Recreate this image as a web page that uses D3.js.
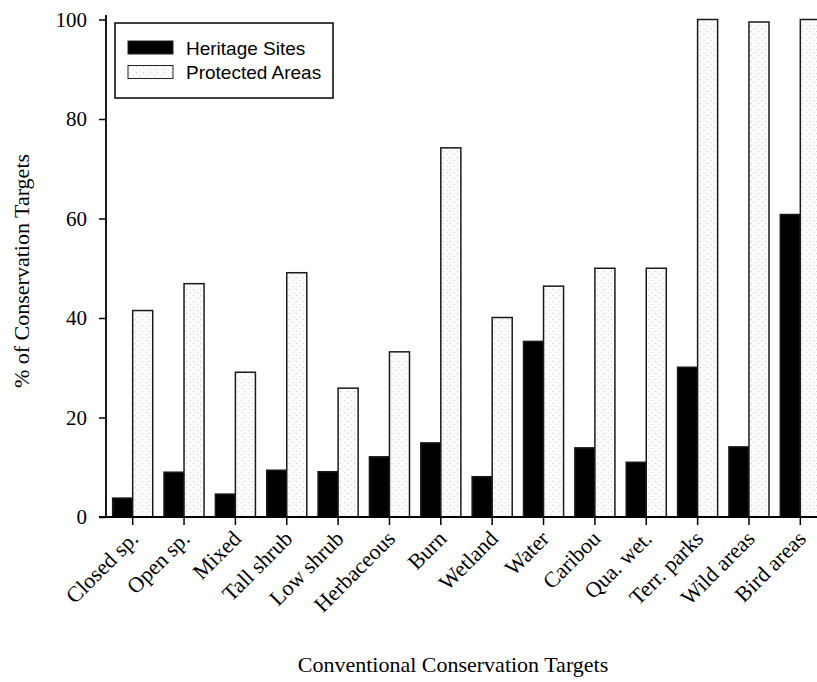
<!DOCTYPE html>
<html>
<head>
<meta charset="utf-8">
<script src="https://cdn.jsdelivr.net/npm/d3@7"></script>
<style>
  html, body { margin: 0; padding: 0; background: #fff; }
  svg { display: block; }
</style>
</head>
<body>
<svg id="chart" width="817" height="682"></svg>
<script>
// Conservation target categories and the share of each captured
const categories = ["Closed sp.", "Open sp.", "Mixed", "Tall shrub", "Low shrub", "Herbaceous",
  "Burn", "Wetland", "Water", "Caribou", "Qua. wet.", "Terr. parks", "Wild areas", "Bird areas"];
const heritageSites = [3.8, 9.0, 4.6, 9.4, 9.1, 12.1, 14.9, 8.1, 35.3, 13.9, 11.0, 30.1, 14.1, 60.8];
const protectedAreas = [41.5, 46.9, 29.1, 49.1, 25.9, 33.2, 74.2, 40.1, 46.4, 50.0, 50.0, 100, 99.5, 100];
const seriesNames = ["Heritage Sites", "Protected Areas"];
const yTicks = [0, 20, 40, 60, 80, 100];

const svg = d3.select("#chart");
const serif = "'Liberation Serif', 'Times New Roman', serif";
const sans = "'Liberation Sans', Arial, sans-serif";

// Sparse stipple used for the light bars
const defs = svg.append("defs");
const pat = defs.append("pattern").attr("id", "stipple")
  .attr("patternUnits", "userSpaceOnUse").attr("width", 7).attr("height", 6);
pat.append("rect").attr("width", 7).attr("height", 6).attr("fill", "#fbfbfb");
pat.append("rect").attr("x", 1).attr("y", 1).attr("width", 1).attr("height", 1).attr("fill", "#c4c4c4");
pat.append("rect").attr("x", 5).attr("y", 4).attr("width", 1).attr("height", 1).attr("fill", "#d2d2d2");

const y = d3.scaleLinear().domain([0, 100]).range([517, 19.5]);
const x = d3.scaleBand().domain(categories).range([107, 826])
  .paddingInner(0.22).paddingOuter(0.11);
const xs = d3.scaleBand().domain(seriesNames).range([0, x.bandwidth()]);

const rows = categories.map((c, i) => ({ cat: c, values: [heritageSites[i], protectedAreas[i]] }));

const groups = svg.append("g").selectAll("g").data(rows).join("g")
  .attr("transform", d => `translate(${x(d.cat)},0)`);

groups.selectAll("rect").data(d => d.values.map((v, j) => ({ v, s: seriesNames[j] })))
  .join("rect")
  .attr("x", d => xs(d.s))
  .attr("y", d => y(d.v))
  .attr("width", xs.bandwidth())
  .attr("height", d => y(0) - y(d.v))
  .attr("fill", d => d.s === seriesNames[0] ? "#000" : "url(#stipple)")
  .attr("stroke", "#1a1a1a")
  .attr("stroke-width", 1.5);

// Y axis
const yAxis = svg.append("g").attr("transform", "translate(106,0)")
  .call(d3.axisLeft(y).tickValues(yTicks).tickSize(7).tickSizeOuter(0).tickPadding(12));
yAxis.select(".domain").attr("d", `M0,${y(0)}V15`).attr("stroke", "#000").attr("stroke-width", 1.8);
yAxis.selectAll(".tick line").attr("stroke", "#000").attr("stroke-width", 1.5);
yAxis.selectAll(".tick text").attr("font-family", serif).attr("font-size", 21).attr("fill", "#000");

// X axis
const xAxis = svg.append("g").attr("transform", `translate(0,${y(0)})`)
  .call(d3.axisBottom(x).tickSize(8).tickSizeOuter(0).tickFormat(""));
xAxis.select(".domain").attr("d", "M99,0H817").attr("stroke", "#000").attr("stroke-width", 1.8);
xAxis.selectAll(".tick line").attr("stroke", "#000").attr("stroke-width", 1.5);

svg.append("g").selectAll("text").data(categories).join("text")
  .attr("transform", d => `translate(${x(d) + x.bandwidth() / 2 + 7},${y(0) + 23}) rotate(-45)`)
  .attr("text-anchor", "end")
  .attr("font-family", serif).attr("font-size", 22).attr("fill", "#000")
  .text(d => d);

// Axis titles
svg.append("text")
  .attr("transform", "translate(29,271) rotate(-90)")
  .attr("text-anchor", "middle")
  .attr("font-family", serif).attr("font-size", 22).attr("fill", "#000")
  .text("% of Conservation Targets");

svg.append("text")
  .attr("x", 453).attr("y", 672)
  .attr("text-anchor", "middle")
  .attr("font-family", serif).attr("font-size", 22).attr("fill", "#000")
  .text("Conventional Conservation Targets");

// Legend
const legend = svg.append("g");
legend.append("rect").attr("x", 115).attr("y", 23).attr("width", 218).attr("height", 75)
  .attr("fill", "#fff").attr("stroke", "#000").attr("stroke-width", 1.5);
const items = legend.selectAll("g.item").data(seriesNames).join("g").attr("class", "item")
  .attr("transform", (d, i) => `translate(128,${41 + i * 24.5})`);
items.append("rect").attr("width", 45).attr("height", 13)
  .attr("fill", (d, i) => i === 0 ? "#000" : "url(#stipple)")
  .attr("stroke", "#222").attr("stroke-width", 1);
items.append("text").attr("x", 58).attr("y", 13.5)
  .attr("font-family", sans).attr("font-size", 19).attr("fill", "#000")
  .text(d => d);
</script>
</body>
</html>
